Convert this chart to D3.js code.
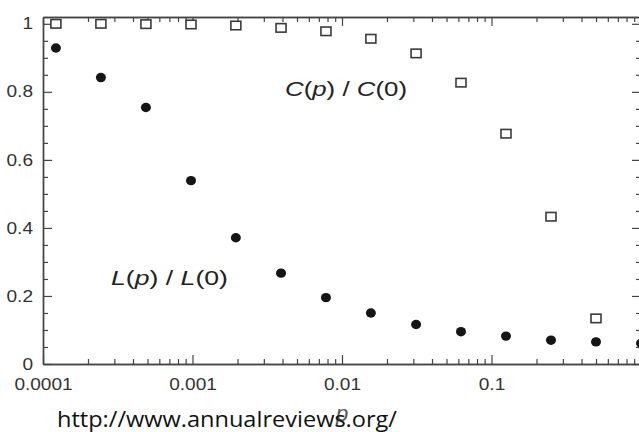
<!DOCTYPE html>
<html>
<head>
<meta charset="utf-8">
<script src="https://cdn.jsdelivr.net/npm/d3@7"></script>
<style>
  html, body { margin: 0; padding: 0; background: #fff; overflow: hidden; }
  svg { display: block; }
</style>
</head>
<body>
<svg id="chart" width="639" height="432"></svg>
<script>
// ---- data ----
const pValues = [0.000122, 0.000244, 0.000488, 0.000977, 0.00195, 0.00391, 0.00781, 0.0156, 0.0313, 0.0625, 0.125, 0.25, 0.5, 1];
const lValues = [0.929, 0.842, 0.754, 0.539, 0.371, 0.267, 0.195, 0.150, 0.116, 0.095, 0.082, 0.070, 0.065, 0.061];
const cValues = [1.0, 1.0, 0.999, 0.998, 0.995, 0.988, 0.978, 0.956, 0.913, 0.827, 0.677, 0.433, 0.134, null];
const xTickValues = [0.0001, 0.001, 0.01, 0.1];
const xTickLabels = ["0.0001", "0.001", "0.01", "0.1"];
const yTickValues = [0, 0.2, 0.4, 0.6, 0.8, 1];
const yTickLabels = ["0", "0.2", "0.4", "0.6", "0.8", "1"];
const cLabel = "C(p) / C(0)";
const lLabel = "L(p) / L(0)";
const xLabel = "p";
const sourceText = "http://www.annualreviews.org/";

(function () {
// ---- layout ----
const svg = d3.select("#chart");
const mLeft = 43, mRight = 641, mTop = 17, mBottom = 364;
const x = d3.scaleLog().domain([0.0001, 1]).range([mLeft, mRight]);
const y = d3.scaleLinear().domain([0, 1.02]).range([mBottom, mTop]);

const xMinor = [];
[0.0001, 0.001, 0.01, 0.1].forEach(d => { for (let k = 2; k <= 9; k++) xMinor.push(d * k); });
const yMinor = d3.range(0, 21).map(i => i * 0.05).filter(v => Math.round(v * 100) % 20 !== 0);

const axisColor = "#444";
function styleAxis(g) {
  g.select(".domain").attr("stroke", axisColor).attr("stroke-width", 1.4);
  g.selectAll(".tick line").attr("stroke", axisColor).attr("stroke-width", 1.2);
  g.selectAll("text").attr("fill", "#333").style("font-family", "'Liberation Sans', Arial, sans-serif").style("font-size", "16px");
}
function stretch(sel, f) {
  sel.each(function () {
    const w = this.getComputedTextLength();
    if (w > 0) d3.select(this).attr("textLength", w * f).attr("lengthAdjust", "spacingAndGlyphs");
  });
}

// bottom
const gB = svg.append("g").attr("transform", `translate(0,${mBottom})`);
gB.call(d3.axisBottom(x).tickValues(xTickValues).tickSize(-9).tickSizeOuter(0).tickPadding(15)
  .tickFormat((d, i) => xTickLabels[i])).call(styleAxis);
const gBm = svg.append("g").attr("transform", `translate(0,${mBottom})`);
gBm.call(d3.axisBottom(x).tickValues(xMinor).tickSize(-5).tickSizeOuter(0).tickFormat("")).call(styleAxis);
// top
const gT = svg.append("g").attr("transform", `translate(0,${mTop})`);
gT.call(d3.axisTop(x).tickValues(xTickValues).tickSize(-9).tickSizeOuter(0).tickFormat("")).call(styleAxis);
const gTm = svg.append("g").attr("transform", `translate(0,${mTop})`);
gTm.call(d3.axisTop(x).tickValues(xMinor).tickSize(-5).tickSizeOuter(0).tickFormat("")).call(styleAxis);
// left
const gL = svg.append("g").attr("transform", `translate(${mLeft},0)`);
gL.call(d3.axisLeft(y).tickValues(yTickValues).tickSize(-9).tickSizeOuter(0).tickPadding(10)
  .tickFormat((d, i) => yTickLabels[i])).call(styleAxis);
const gLm = svg.append("g").attr("transform", `translate(${mLeft},0)`);
gLm.call(d3.axisLeft(y).tickValues(yMinor).tickSize(-5).tickSizeOuter(0).tickFormat("")).call(styleAxis);
// right
const gR = svg.append("g").attr("transform", `translate(${mRight},0)`);
gR.call(d3.axisRight(y).tickValues(yTickValues).tickSize(-9).tickSizeOuter(0).tickFormat("")).call(styleAxis);
const gRm = svg.append("g").attr("transform", `translate(${mRight},0)`);
gRm.call(d3.axisRight(y).tickValues(yMinor).tickSize(-5).tickSizeOuter(0).tickFormat("")).call(styleAxis);

stretch(gB.selectAll("text"), 1.19);
stretch(gL.selectAll("text"), 1.19);

// ---- marks ----
const lData = pValues.map((p, i) => ({ p, v: lValues[i] }));
const cData = pValues.map((p, i) => ({ p, v: cValues[i] })).filter(d => d.v !== null);

svg.append("g").selectAll("ellipse").data(lData).join("ellipse")
  .attr("cx", d => x(d.p)).attr("cy", d => y(d.v))
  .attr("rx", 5).attr("ry", 4.7)
  .attr("fill", "#151515");

const sw = 10, sh = 8.5;
svg.append("g").selectAll("rect").data(cData).join("rect")
  .attr("x", d => x(d.p) - sw / 2).attr("y", d => y(d.v) - sh / 2)
  .attr("width", sw).attr("height", sh)
  .attr("fill", "#fff").attr("stroke", "#3a3a3a").attr("stroke-width", 1.6);

// ---- annotations ----
function richLabel(txt, xPos, yPos, width) {
  const t = svg.append("text").attr("x", xPos).attr("y", yPos)
    .style("font-family", "'Liberation Sans', Arial, sans-serif").style("font-size", "21px").attr("fill", "#222");
  const parts = txt.match(/[CLp]|[^CLp]+/g);
  parts.forEach(s => {
    t.append("tspan").text(s).style("font-style", /[CLp]/.test(s) ? "italic" : "normal");
  });
  t.attr("textLength", width).attr("lengthAdjust", "spacingAndGlyphs");
  return t;
}
richLabel(cLabel, 285, 96, 122);
richLabel(lLabel, 111, 285, 117);

// x axis label (partly under source text)
svg.append("text").attr("x", x(0.01)).attr("y", 421).attr("text-anchor", "middle")
  .style("font-family", "'Liberation Sans', Arial, sans-serif").style("font-size", "22px")
  .style("font-style", "italic").attr("fill", "#555").text(xLabel);

svg.append("text").attr("x", 57).attr("y", 427)
  .style("font-family", "'Open Sans', 'Noto Sans', sans-serif").style("font-size", "21px")
  .attr("fill", "#111").attr("textLength", 340).attr("lengthAdjust", "spacingAndGlyphs")
  .text(sourceText);
})();
</script>
</body>
</html>
